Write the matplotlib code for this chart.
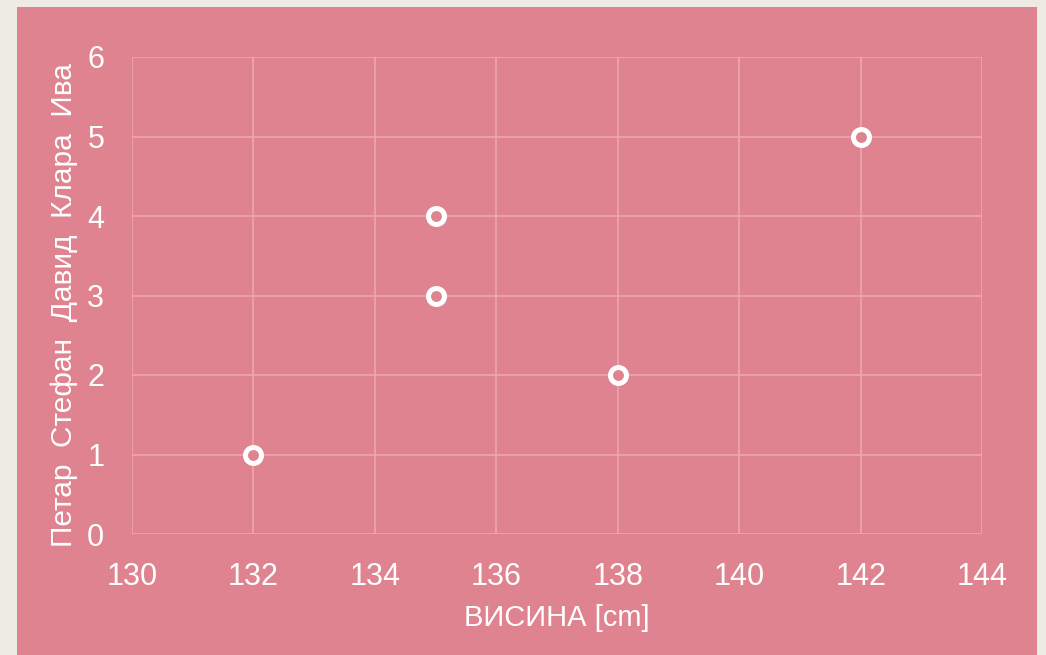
import matplotlib.pyplot as plt
from matplotlib.patches import Rectangle

# ---------------- Data ----------------
heights = [132, 138, 135, 135, 142]
order = [1, 2, 3, 4, 5]
names = ["Петар", "Стефан", "Давид", "Клара", "Ива"]
x_ticks = [130, 132, 134, 136, 138, 140, 142, 144]
y_ticks = [0, 1, 2, 3, 4, 5, 6]

# ---------------- Style ----------------
PINK = "#e08390"
BEIGE = "#eeebe4"
GRID = "#eca9b3"
WHITE = "#ffffff"

plt.rcParams["font.family"] = ["Liberation Sans", "DejaVu Sans"]

W, H = 1046, 655
fig = plt.figure(figsize=(W / 100, H / 100), dpi=100, facecolor=BEIGE)

# pink panel behind the chart
fig.patches.append(Rectangle((17 / W, 0), (1037 - 17) / W, (655 - 7) / H,
                             transform=fig.transFigure, facecolor=PINK,
                             edgecolor="none", zorder=-5))

ax = fig.add_axes([132 / W, (H - 534) / H, (982 - 132) / W, (534 - 57) / H])
ax.set_facecolor("none")

ax.plot(heights, order, linestyle="none", marker="o", markersize=11.5,
        markerfacecolor=PINK, markeredgecolor=WHITE, markeredgewidth=3.6,
        zorder=3, clip_on=False)

ax.set_xlim(x_ticks[0], x_ticks[-1])
ax.set_ylim(y_ticks[0], y_ticks[-1])
ax.set_xticks(x_ticks)
ax.set_yticks(y_ticks)
ax.grid(True, color=GRID, linewidth=1.1)
ax.set_axisbelow(True)
for s in ax.spines.values():
    s.set_visible(False)

ax.tick_params(axis="both", length=0, labelcolor=WHITE, labelsize=22)
ax.tick_params(axis="x", pad=20)
ax.tick_params(axis="y", pad=20)

ax.set_xlabel("ВИСИНА [cm]", color=WHITE, fontsize=21, labelpad=9)
ax.set_ylabel("  ".join(names), color=WHITE, fontsize=21.5)
ax.yaxis.set_label_coords(-0.063, 0.48)

fig.savefig("out.png", dpi=100, facecolor=BEIGE)
